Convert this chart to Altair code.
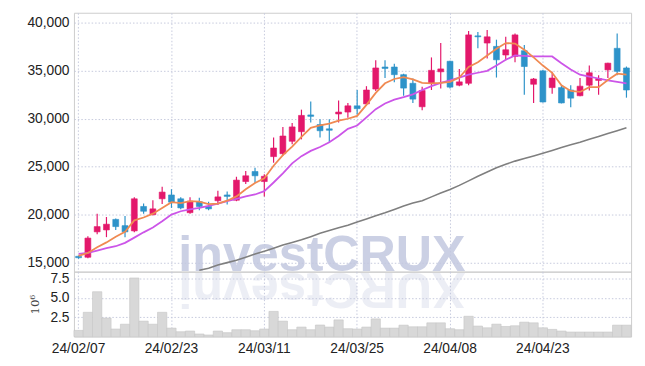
import altair as alt
import pandas as pd

dates = ["24/02/07","24/02/08","24/02/13","24/02/14","24/02/15","24/02/16","24/02/19","24/02/20","24/02/21","24/02/22",
         "24/02/23","24/02/26","24/02/27","24/02/28","24/02/29","24/03/04","24/03/05","24/03/06","24/03/07","24/03/08",
         "24/03/11","24/03/12","24/03/13","24/03/14","24/03/15","24/03/18","24/03/19","24/03/20","24/03/21","24/03/22",
         "24/03/25","24/03/26","24/03/27","24/03/28","24/03/29","24/04/01","24/04/02","24/04/03","24/04/04","24/04/05",
         "24/04/08","24/04/09","24/04/11","24/04/12","24/04/15","24/04/16","24/04/17","24/04/18","24/04/19","24/04/22",
         "24/04/23","24/04/24","24/04/25","24/04/26","24/04/29","24/04/30","24/05/02","24/05/03","24/05/07","24/05/08"]
tick_labels = ["24/02/07","24/02/23","24/03/11","24/03/25","24/04/08","24/04/23"]

opens  = [15650,15550,18200,18400,19500,18850,18300,20850,20000,21650,
          22050,21650,20200,21350,20850,21450,22050,21500,23450,24500,
          23450,26050,26350,27650,28650,30400,29400,28950,30500,30700,
          31350,31550,33100,35400,35400,34600,33700,31250,33700,34900,
          36000,33500,33700,38650,37900,37550,36650,36500,37100,33600,
          35000,33250,33250,33000,32400,33500,34000,35100,37350,35300]
highs  = [15700,17750,20100,19750,19600,19850,21800,21150,21500,22900,
          22650,21800,21800,21750,21350,22500,22400,23950,24550,24900,
          24200,28050,29150,29550,30950,31800,29950,29950,31900,31650,
          33000,33400,36100,36100,35750,34700,34200,33350,36400,37900,
          36050,35200,39150,39050,39250,38250,38550,38900,37700,34250,
          35100,34900,33500,33500,34250,35550,34550,35850,38900,35450]
lows   = [15400,15450,17950,17650,18400,17650,18150,20100,19900,21100,
          20700,20550,20100,20450,20450,21000,21050,21400,23200,23300,
          21900,25400,26150,27350,27850,29600,28050,27550,29600,30100,
          30450,31400,32900,34250,33800,32400,31650,30900,33000,33150,
          33150,33400,33500,37350,36300,34300,36100,35900,32500,31650,
          31700,32600,31600,31200,32350,32950,32500,34250,34550,32200]
closes = [15500,17550,18750,19000,18750,18200,21650,20350,20600,22350,
          21300,20700,21400,20850,20600,21850,21900,23600,24050,24050,
          24000,26950,28200,29150,30350,30250,28750,28800,30700,31350,
          31050,33000,35300,35250,34600,33200,32050,32950,35050,35200,
          33300,33850,38750,38550,38550,36150,37200,38750,35450,34150,
          31750,34250,31650,32150,33400,34800,34200,35800,34950,33000]
ma_orange = [15700,16000,16600,17100,17700,18200,19400,19700,20100,20700,
             21300,21200,21400,21350,21100,21150,21450,21900,22650,23300,
             23800,25100,26200,27100,28100,29050,29300,29500,29800,30000,
             30300,31450,32700,33700,34150,34350,34100,33750,33700,33750,
             33850,34300,35400,35900,36600,37300,37900,37850,37200,36400,
             35550,34800,33500,32900,32800,33300,33300,34050,34700,34600]
ma_purple = [15900,16000,16250,16500,16700,17050,17600,18150,18650,19300,
             20000,20350,20550,20700,20900,21150,21400,21650,21900,22100,
             22450,23350,24300,25350,26100,26650,27050,27550,28200,28950,
             29300,30150,31000,31600,32000,32250,32550,33000,33400,33750,
             34000,34300,34600,34800,35000,35550,36150,36600,36550,36500,
             36500,36500,35800,35150,34600,34400,34200,34000,33850,33700]
ma_gray = [None,None,None,None,None,None,None,None,None,None,
           None,None,None,14200,14400,14750,14990,15250,15560,15880,
           16180,16500,16830,17100,17370,17700,18050,18330,18620,18900,
           19230,19550,19870,20190,20540,20900,21200,21450,21850,22250,
           22620,23050,23520,24000,24450,24880,25250,25580,25850,26120,
           26400,26700,27000,27280,27550,27850,28150,28450,28750,29050]
volume_m = [0.80,3.14,5.80,2.40,0.98,1.60,7.58,2.00,1.60,3.14,
            1.10,0.63,0.72,0.34,0.21,0.72,0.51,0.89,0.89,0.76,
            0.98,3.26,2.00,0.89,1.23,0.89,1.50,1.23,2.16,1.02,
            0.98,1.23,2.29,1.10,1.10,1.48,1.27,1.27,1.78,1.78,
            1.02,0.89,2.63,1.36,1.14,1.61,1.31,1.40,1.87,1.78,
            1.14,0.93,0.72,0.59,0.59,0.59,0.59,0.59,1.48,1.48]
watermark = "investCRUX"
y_ticks = [15000, 20000, 25000, 30000, 35000, 40000]
vol_ticks = [2.5, 5.0, 7.5]

df = pd.DataFrame({"date": dates, "open": opens, "high": highs, "low": lows, "close": closes,
                   "ma_o": ma_orange, "ma_p": ma_purple, "ma_g": ma_gray, "vol": volume_m})

UP = "#e3186b"
DOWN = "#2d93c9"
FONT = "Liberation Sans"
W = 566

xscale = alt.Scale(paddingInner=0, paddingOuter=0)
x_top = alt.X("date:O", sort=None, scale=xscale,
              axis=alt.Axis(values=tick_labels, labels=False, ticks=False, domain=False, grid=True,
                            title=None, bandPosition=0.5, minExtent=0, maxExtent=0))
yscale = alt.Scale(domain=[14050, 41060], nice=False, zero=False)
y_axis = alt.Axis(values=y_ticks, format=",.0f", ticks=False, domain=False, labelPadding=5,
                  grid=True, title=None)

base = alt.Chart(df)
color_cond = alt.condition("datum.close >= datum.open", alt.value(UP), alt.value(DOWN))

wm = alt.Chart(pd.DataFrame({"t": [watermark]})).mark_text(
    font="Liberation Sans", fontWeight="bold", fontSize=51, align="left", baseline="alphabetic",
    color="#c3c8e0", opacity=0.85
).encode(x=alt.value(106), y=alt.value(262), text="t:N")

wick = base.mark_rule(strokeWidth=1.2).encode(
    x=x_top, y=alt.Y("low:Q", scale=yscale, axis=y_axis), y2="high:Q", color=color_cond)
body = base.mark_bar(size=6, strokeWidth=0.6).encode(
    x=x_top, y=alt.Y("open:Q", scale=yscale), y2="close:Q", color=color_cond, stroke=color_cond)
l_g = base.mark_line(color="#7f7f7f", strokeWidth=1.6, clip=True).encode(
    x=x_top, y=alt.Y("ma_g:Q", scale=yscale))
l_p = base.mark_line(color="#cc55e8", strokeWidth=1.8, clip=True).encode(
    x=x_top, y=alt.Y("ma_p:Q", scale=yscale))
l_o = base.mark_line(color="#f08a52", strokeWidth=1.8, clip=True).encode(
    x=x_top, y=alt.Y("ma_o:Q", scale=yscale))

top = alt.layer(wm, l_g, wick, body, l_p, l_o).properties(width=W, height=263)

x_bot = alt.X("date:O", sort=None, scale=xscale,
              axis=alt.Axis(values=tick_labels, labelAngle=0, ticks=False, domain=False, grid=True,
                            title=None, bandPosition=0.5, labelPadding=5))
wm_ref = alt.Chart(pd.DataFrame({"t": [watermark[::-1]]})).mark_text(
    font="Liberation Sans", fontWeight="bold", fontSize=51, align="right", baseline="alphabetic",
    angle=180, color="#c3c8e0", opacity=0.3
).encode(x=alt.value(106), y=alt.value(1), text="t:N")
vol = base.mark_bar(color="#d8d8d8", stroke="#c6c6c6", strokeWidth=0.6).encode(
    x=x_bot,
    y=alt.Y("vol:Q", scale=alt.Scale(domain=[0, 8.4], nice=False),
            axis=alt.Axis(values=vol_ticks, format=".1f", ticks=False, domain=False, labelPadding=5,
                          grid=True, minExtent=22, maxExtent=22, title="10⁶", titlePadding=11,
                          titleFont="DejaVu Serif", titleFontSize=12, titleFontWeight="normal",
                          titleColor="#444444")))
bottom = alt.layer(wm_ref, vol).properties(width=W, height=66)

chart = alt.vconcat(top, bottom, spacing=0, bounds="flush").properties(
    padding={"left": 18, "top": 1, "right": 5, "bottom": 5}
).configure_view(stroke="#cccccc").configure_axis(
    gridColor="#c5c9dc", gridDash=[1.5, 2], gridWidth=1,
    labelFont=FONT, labelFontSize=14, labelColor="#222222"
)

chart.save("out.html", embed_options={"renderer": "svg", "actions": False})
